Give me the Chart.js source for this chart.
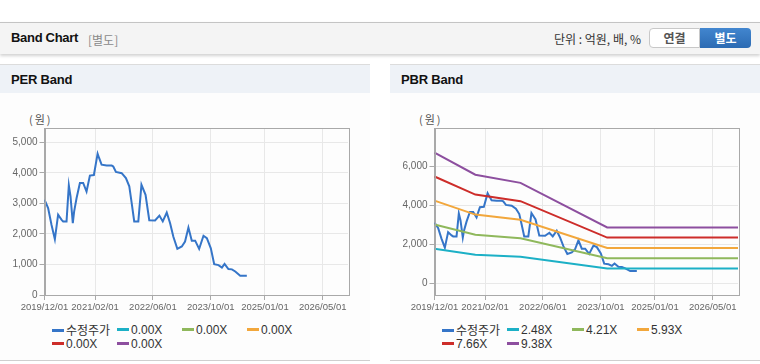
<!DOCTYPE html>
<html>
<head>
<meta charset="utf-8">
<script src="https://cdn.jsdelivr.net/npm/chart.js@4.4.1/dist/chart.umd.min.js"></script>
<style>
	body { margin: 0; width: 760px; height: 364px; background: #fff; position: relative; overflow: hidden; font-family: 'Liberation Sans', 'Noto Sans CJK KR', sans-serif; }
	.bar { position: absolute; left: 0; top: 22px; width: 760px; height: 31px; background: #f4f4f4; border-top: 1px solid #c4c4c4; box-shadow: 0 2px 3px rgba(0, 0, 0, 0.18); }
	.bar .title { position: absolute; left: 11px; top: 7px; font-size: 13px; font-weight: bold; color: #111; letter-spacing: -0.3px; }
	.bar .sub { position: absolute; left: 88px; top: 8px; font-size: 12px; color: #8a8a8a; font-family: 'Noto Sans CJK KR', sans-serif; }
	.bar .unitTxt { position: absolute; right: 119px; top: 7px; font-size: 12px; color: #333; font-family: 'Noto Sans CJK KR', sans-serif; }
	.btn { position: absolute; top: 5px; width: 51px; height: 20px; line-height: 20px; text-align: center; font-size: 12px; font-weight: bold; font-family: 'Noto Sans CJK KR', sans-serif; box-sizing: border-box; }
	.btn.b1 { left: 649px; background: #fff; color: #555; border: 1px solid #c8c8c8; border-radius: 4px 0 0 4px; line-height: 18px; }
	.btn.b2 { left: 700px; background: linear-gradient(#4286cf, #2c6bb3); color: #fff; border-radius: 0 4px 4px 0; }
	.panel { position: absolute; top: 64px; width: 370px; height: 297px; background: #fdfdfd; border-top: 1px solid #dcdcdc; border-bottom: 1px solid #cfcfcf; box-sizing: border-box; }
	.panel .ptitle { height: 28px; line-height: 29px; background: #eef2f7; padding-left: 11px; font-size: 13px; font-weight: bold; color: #111; letter-spacing: -0.2px; }
	.panel .won { position: absolute; left: 29px; top: 46px; font-size: 11px; color: #555; letter-spacing: 2px; font-family: 'Noto Sans CJK KR', sans-serif; }
	.panel canvas { position: absolute; left: 0; top: 35px; }
	.legend { position: absolute; left: 52px; top: 258px; width: 270px; }
	.legend .item { float: left; width: 65px; height: 14px; line-height: 14px; font-size: 12px; color: #333; white-space: nowrap; }
	.legend .mark { display: inline-block; width: 12px; height: 3px; vertical-align: middle; margin-right: 2px; margin-top: -2px; }
	.legend .item.kr { font-family: 'Noto Sans CJK KR', sans-serif; }
</style>
</head>
<body>
<div class="bar">
	<span class="title">Band Chart</span><span class="sub">[별도]</span>
	<span class="unitTxt">단위 : 억원, 배, %</span>
	<span class="btn b1">연결</span><span class="btn b2">별도</span>
</div>

<div class="panel" style="left:0">
	<div class="ptitle">PER Band</div>
	<div class="won">(원)</div>
	<canvas id="perBand" width="370" height="215"></canvas>
	<div class="legend" id="perLegend"></div>
</div>

<div class="panel" style="left:390px">
	<div class="ptitle">PBR Band</div>
	<div class="won">(원)</div>
	<canvas id="pbrBand" width="370" height="215"></canvas>
	<div class="legend" id="pbrLegend"></div>
</div>

<script>
// x axis: dates
const tickDates = ['2019/12/01', '2021/02/01', '2022/06/01', '2023/10/01', '2025/01/01', '2026/05/01']
const axisStart = '2019/12/01'
const axisEnd = '2026/12/01'

// 수정주가
const priceDates = [
	'2019/12/01', '2020/01/01', '2020/01/29', '2020/02/27', '2020/03/24', '2020/04/23', '2020/05/06', '2020/06/04',
	'2020/06/23', '2020/07/07', '2020/07/26', '2020/08/07', '2020/08/27', '2020/09/25', '2020/10/22', '2020/11/20',
	'2020/12/18', '2021/01/21', '2021/02/22', '2021/03/05', '2021/03/25', '2021/05/07', '2021/06/19', '2021/07/02',
	'2021/07/24', '2021/09/12', '2021/10/17', '2021/11/15', '2021/12/05', '2021/12/26', '2022/01/30', '2022/02/26',
	'2022/03/30', '2022/05/01', '2022/06/19', '2022/07/25', '2022/08/23', '2022/09/26', '2022/10/24', '2022/11/21',
	'2022/12/24', '2023/02/01', '2023/02/28', '2023/03/26', '2023/04/24', '2023/05/22', '2023/06/25', '2023/08/01',
	'2023/08/29', '2023/10/02', '2023/10/30', '2023/12/06', '2024/01/04', '2024/01/26', '2024/02/28', '2024/03/27',
	'2024/04/25', '2024/06/06', '2024/08/01',
]
const priceValues = [
	3120, 2850, 2300, 1830, 2630, 2460, 2410, 2410,
	3590, 3230, 2350, 2730, 3170, 3670, 3670, 3390,
	3910, 3930, 4630, 4480, 4270, 4240, 4240, 4210,
	4030, 3990, 3830, 3560, 3010, 2410, 2410, 3610,
	3280, 2450, 2440, 2600, 2410, 2700, 2350, 1910,
	1510, 1590, 1750, 2210, 1780, 1780, 1510, 1940,
	1860, 1530, 1010, 980, 900, 1020, 850, 840,
	770, 630, 630,
]

// PER band (no values)
const perLabels = ['0.00X', '0.00X', '0.00X', '0.00X', '0.00X']

// PBR band
const pbrLabels = ['2.48X', '4.21X', '5.93X', '7.66X', '9.38X']
const bandDates = ['2019/12/01', '2020/11/10', '2021/11/25', '2023/11/25', '2026/12/01']
const pbr248 = [1780, 1470, 1370, 760, 760]
const pbr421 = [3020, 2500, 2320, 1290, 1290]
const pbr593 = [4250, 3530, 3270, 1820, 1820]
const pbr766 = [5490, 4560, 4220, 2350, 2350]
const pbr938 = [6720, 5580, 5160, 2870, 2870]

const perYTicks = [0, 1000, 2000, 3000, 4000, 5000]
const pbrYTicks = [0, 2000, 4000, 6000]

const priceColor = '#3575c8'
const bandColors = ['#1cb0c6', '#8fb85c', '#f2a73c', '#cd2d2a', '#8d4f9f']

function toMonth(s) {
	const [y, m, d] = s.split('/').map(Number)
	return (y - 2019) * 12 + (m - 12) + (d - 1) / 30
}

function points(dates, values) {
	return dates.map((d, i) => ({ x: toMonth(d), y: values[i] }))
}

const frame = {
	id: 'frame',
	afterDraw(chart) {
		const { ctx, chartArea: a } = chart
		ctx.save()
		ctx.strokeStyle = '#a9a9a9'
		ctx.lineWidth = 1
		ctx.strokeRect(Math.round(a.left) + 0.5, Math.round(a.top) + 0.5, Math.round(a.right - a.left), Math.round(a.bottom - a.top))
		ctx.restore()
	},
}

function bandChart(id, datasets, yMin, yMax, yTicks) {
	return new Chart(document.getElementById(id), {
		type: 'line',
		data: { datasets },
		options: {
			responsive: false,
			animation: false,
			layout: { padding: { top: 28, right: 22, left: 0, bottom: 0 } },
			elements: { point: { radius: 0 }, line: { borderWidth: 2, tension: 0 } },
			plugins: { legend: { display: false }, tooltip: { enabled: false } },
			scales: {
				x: {
					type: 'linear',
					min: toMonth(axisStart),
					max: toMonth(axisEnd),
					afterBuildTicks: (s) => {
						s.ticks = tickDates.map((d) => ({ value: toMonth(d) }))
					},
					afterFit: (s) => {
						s.height = 20
					},
					grid: { color: '#e8e8e8', tickColor: '#a9a9a9', tickLength: 5 },
					border: { color: '#a9a9a9' },
					ticks: {
						autoSkip: false,
						maxRotation: 0,
						padding: 2,
						color: '#666',
						font: { size: 9.5, family: "'Liberation Sans', sans-serif" },
						callback: (v) => {
							const i = tickDates.findIndex((d) => Math.abs(toMonth(d) - v) < 0.01)
							return i >= 0 ? tickDates[i] : ''
						},
					},
				},
				y: {
					min: yMin,
					max: yMax,
					afterBuildTicks: (s) => {
						s.ticks = yTicks.map((v) => ({ value: v }))
					},
					afterFit: (s) => {
						s.width = 44.5
					},
					grid: { color: '#e8e8e8', tickColor: '#a9a9a9', tickLength: 5 },
					border: { color: '#a9a9a9' },
					ticks: {
						padding: 2,
						color: '#666',
						font: { size: 10, family: "'Liberation Sans', sans-serif" },
						callback: (v) => v.toLocaleString('en-US'),
					},
				},
			},
		},
		plugins: [frame],
	})
}

function makeLegend(id, labels) {
	const all = [{ text: '수정주가', color: priceColor }].concat(labels.map((t, i) => ({ text: t, color: bandColors[i] })))
	document.getElementById(id).innerHTML = all
		.map((it, i) => `<div class="item${i === 0 ? ' kr' : ''}"><span class="mark" style="background:${it.color}"></span>${it.text}</div>`)
		.join('')
}

const priceSet = (label) => ({ label, data: points(priceDates, priceValues), borderColor: priceColor, order: 1 })

const perBandChart = bandChart(
	'perBand',
	[priceSet('수정주가')].concat(perLabels.map((l, i) => ({ label: l, data: [], borderColor: bandColors[i], order: 0 }))),
	0,
	5470,
	perYTicks
)

const pbrBands = [pbr248, pbr421, pbr593, pbr766, pbr938]
const pbrBandChart = bandChart(
	'pbrBand',
	[priceSet('수정주가')].concat(
		pbrLabels.map((l, i) => ({ label: l, data: points(bandDates, pbrBands[i]), borderColor: bandColors[i], order: 0 }))
	),
	-600,
	7980,
	pbrYTicks
)

makeLegend('perLegend', perLabels)
makeLegend('pbrLegend', pbrLabels)
</script>
</body>
</html>
